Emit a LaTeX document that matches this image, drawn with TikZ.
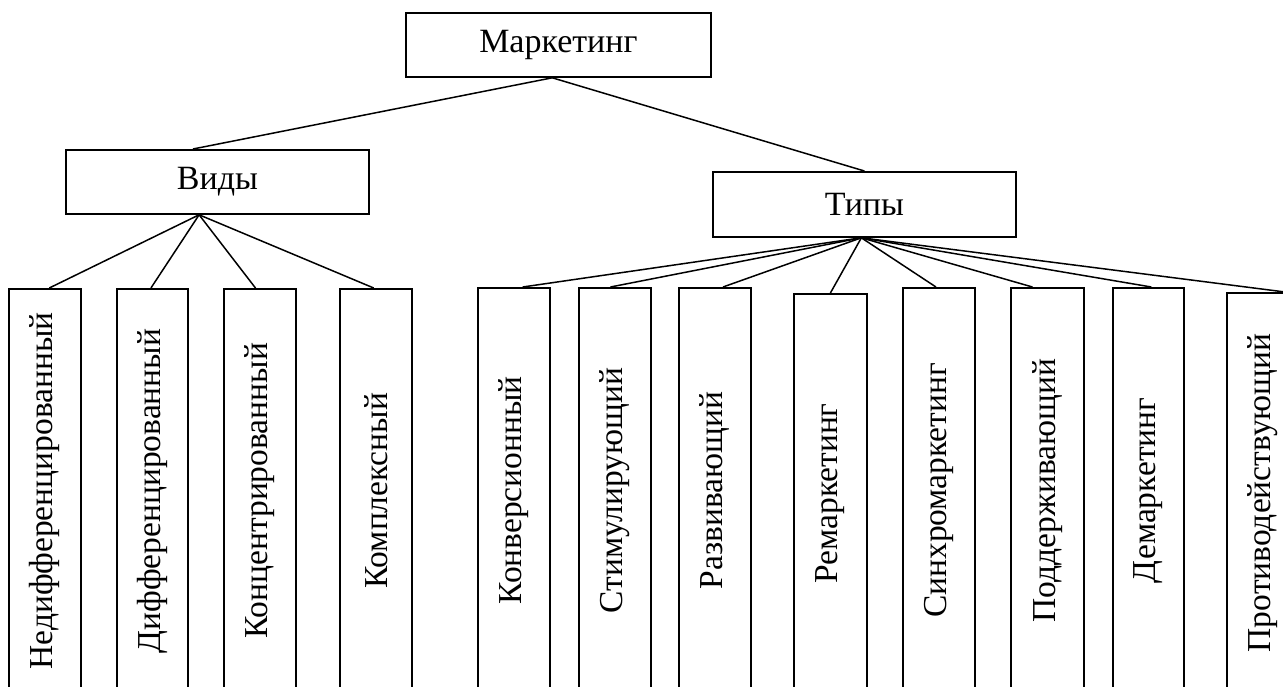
\documentclass[tikz,border=0pt]{standalone}
\usepackage{fontspec}
\setmainfont{Liberation Serif}
\usetikzlibrary{calc}
\begin{document}
\begin{tikzpicture}[x=1pt,y=-1pt,
  box/.style={draw, line width=1.8pt, inner sep=0pt, anchor=north west, font=\fontsize{34}{40}\selectfont},
  leaf/.style={box, font=\fontsize{33.5}{40}\selectfont},
  link/.style={line width=1.5pt}]
\useasboundingbox (0,0) rectangle (1283,687);
\clip (0,0) rectangle (1283,687);
% top level
\node[box, minimum width=305pt, minimum height=64pt] (mark) at (405,12) {Маркетинг};
\node[box, minimum width=303pt, minimum height=64pt] (vidy) at (65,149) {Виды};
\node[box, minimum width=303pt, minimum height=65pt] (tipy) at (712,171) {Типы};
% leaves (Виды)
\node[leaf, minimum width=72pt, minimum height=404pt] (v1) at (8,288) {\rotatebox{90}{Недифференцированный}};
\node[leaf, minimum width=71pt, minimum height=404pt] (v2) at (116,288) {\rotatebox{90}{Дифференцированный}};
\node[leaf, minimum width=72pt, minimum height=404pt] (v3) at (223,288) {\rotatebox{90}{Концентрированный}};
\node[leaf, minimum width=72pt, minimum height=404pt] (v4) at (339,288) {\rotatebox{90}{Комплексный}};
% leaves (Типы)
\node[leaf, minimum width=72pt, minimum height=405pt] (t1) at (477,287) {\rotatebox{90}{Конверсионный}};
\node[leaf, minimum width=72pt, minimum height=405pt] (t2) at (578,287) {\rotatebox{90}{Стимулирующий}};
\node[leaf, minimum width=72pt, minimum height=405pt] (t3) at (678,287) {\rotatebox{90}{Развивающий}};
\node[leaf, minimum width=73pt, minimum height=399pt] (t4) at (793,293) {\rotatebox{90}{Ремаркетинг}};
\node[leaf, minimum width=72pt, minimum height=405pt] (t5) at (902,287) {\rotatebox{90}{Синхромаркетинг}};
\node[leaf, minimum width=73pt, minimum height=405pt] (t6) at (1010,287) {\rotatebox{90}{Поддерживающий}};
\node[leaf, minimum width=71pt, minimum height=405pt] (t7) at (1112,287) {\rotatebox{90}{Демаркетинг}};
\node[leaf, minimum width=72pt, minimum height=400pt] (t8) at (1226,292) {\rotatebox{90}{Противодействующий}};
% connectors
\coordinate (mb) at ($(mark.south west)!0.48!(mark.south east)$);
\coordinate (vb) at ($(vidy.south west)!0.44!(vidy.south east)$);
\coordinate (tb) at ($(tipy.south west)!0.49!(tipy.south east)$);
\draw[link] (mb) -- ($(vidy.north west)!0.42!(vidy.north east)$);
\draw[link] (mb) -- (tipy.north);
\draw[link] (vb) -- ($(v1.north west)!0.56!(v1.north east)$);
\draw[link] (vb) -- ($(v2.north west)!0.48!(v2.north east)$);
\draw[link] (vb) -- ($(v3.north west)!0.44!(v3.north east)$);
\draw[link] (vb) -- ($(v4.north west)!0.47!(v4.north east)$);
\draw[link] (tb) -- ($(t1.north west)!0.62!(t1.north east)$);
\draw[link] (tb) -- ($(t2.north west)!0.44!(t2.north east)$);
\draw[link] (tb) -- ($(t3.north west)!0.61!(t3.north east)$);
\draw[link] (tb) -- ($(t4.north west)!0.50!(t4.north east)$);
\draw[link] (tb) -- ($(t5.north west)!0.46!(t5.north east)$);
\draw[link] (tb) -- ($(t6.north west)!0.30!(t6.north east)$);
\draw[link] (tb) -- ($(t7.north west)!0.54!(t7.north east)$);
\draw[link] (tb) -- ($(t8.north west)!0.80!(t8.north east)$);
\end{tikzpicture}
\end{document}
